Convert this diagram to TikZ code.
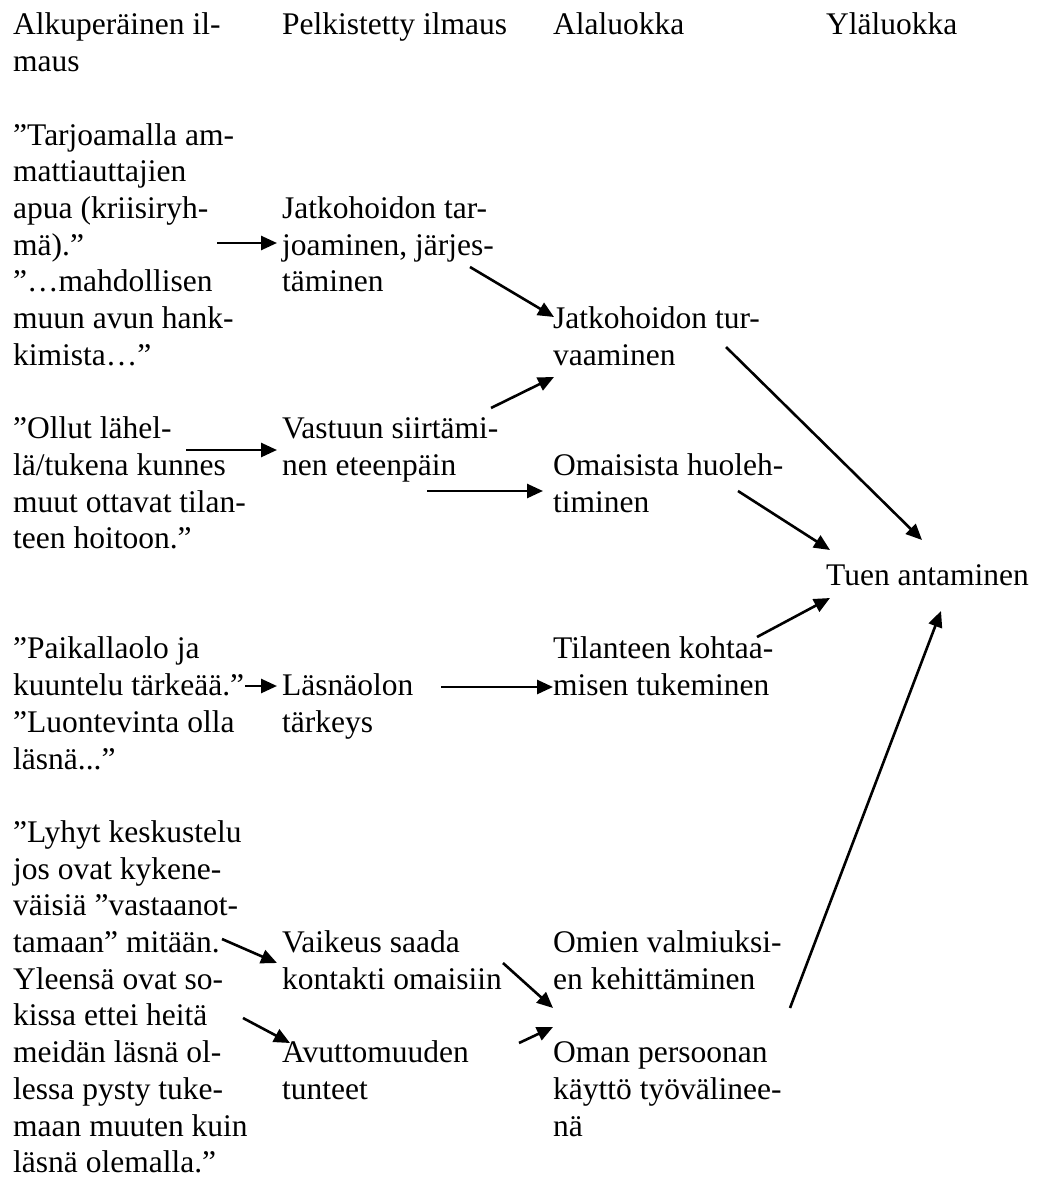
\documentclass[tikz,border=0pt]{standalone}
\usepackage{fontspec}
\setmainfont{Liberation Serif}
\usetikzlibrary{arrows.meta}
\newcommand\blk[1]{\vtop{\lineskiplimit=-100pt\halign{##\hfil\cr#1\crcr}}}
\begin{document}
\begin{tikzpicture}[x=1pt,y=-1pt,
  txt/.style={anchor=base west,inner sep=0pt,font=\fontsize{31.5}{36.7}\selectfont},
  arr/.style={line width=2.6pt,-{Triangle[length=16pt,width=14pt]}}]
\useasboundingbox (0,0) rectangle (1042,1180);
% headers
\node[txt] (h1) at (13,{35}) {\blk{Alkuperäinen il-\cr maus}};
\node[txt] (h2) at (282,{35}) {\blk{Pelkistetty ilmaus}};
\node[txt] (h3) at (553,{35}) {\blk{Alaluokka}};
\node[txt] (h4) at (826,{35}) {\blk{Yläluokka}};
% original expressions
\node[txt] (o1) at (13,{35+36.7*3}) {\blk{”Tarjoamalla am-\cr mattiauttajien\cr apua (kriisiryh-\cr mä).”\cr ”…mahdollisen\cr muun avun hank-\cr kimista…”}};
\node[txt] (o2) at (13,{35+36.7*11}) {\blk{”Ollut lähel-\cr lä/tukena kunnes\cr muut ottavat tilan-\cr teen hoitoon.”}};
\node[txt] (o3) at (13,{35+36.7*17}) {\blk{”Paikallaolo ja\cr kuuntelu tärkeää.”\cr ”Luontevinta olla\cr läsnä...”}};
\node[txt] (o4) at (13,{35+36.7*22}) {\blk{”Lyhyt keskustelu\cr jos ovat kykene-\cr väisiä ”vastaanot-\cr tamaan” mitään.\cr Yleensä ovat so-\cr kissa ettei heitä\cr meidän läsnä ol-\cr lessa pysty tuke-\cr maan muuten kuin\cr läsnä olemalla.”}};
% simplified
\node[txt] (p1) at (282,{35+36.7*5}) {\blk{Jatkohoidon tar-\cr joaminen, järjes-\cr täminen}};
\node[txt] (p2) at (282,{35+36.7*11}) {\blk{Vastuun siirtämi-\cr nen eteenpäin}};
\node[txt] (p3) at (282,{35+36.7*18}) {\blk{Läsnäolon\cr tärkeys}};
\node[txt] (p4) at (282,{35+36.7*25}) {\blk{Vaikeus saada\cr kontakti omaisiin}};
\node[txt] (p5) at (282,{35+36.7*28}) {\blk{Avuttomuuden\cr tunteet}};
% subclasses
\node[txt] (a1) at (553,{35+36.7*8}) {\blk{Jatkohoidon tur-\cr vaaminen}};
\node[txt] (a2) at (553,{35+36.7*12}) {\blk{Omaisista huoleh-\cr timinen}};
\node[txt] (a3) at (553,{35+36.7*17}) {\blk{Tilanteen kohtaa-\cr misen tukeminen}};
\node[txt] (a4) at (553,{35+36.7*25}) {\blk{Omien valmiuksi-\cr en kehittäminen}};
\node[txt] (a5) at (553,{35+36.7*28}) {\blk{Oman persoonan\cr käyttö työvälinee-\cr nä}};
% main class
\node[txt] (y1) at (826,{35+36.7*15}) {\blk{Tuen antaminen}};
% connector end points
\coordinate (s1) at (217,243);  \coordinate (e1) at (277,243);
\coordinate (s2) at (470,267);  \coordinate (e2) at (554,317);
\coordinate (s3) at (491,408);  \coordinate (e3) at (554,377);
\coordinate (s4) at (186,450);  \coordinate (e4) at (277,450);
\coordinate (s5) at (427,491);  \coordinate (e5) at (543,491);
\coordinate (s6) at (726,347);  \coordinate (e6) at (922,540);
\coordinate (s7) at (738,491);  \coordinate (e7) at (830,550);
\coordinate (s8) at (757,637);  \coordinate (e8) at (830,598);
\coordinate (s9) at (441,687);  \coordinate (e9) at (553,687);
\coordinate (s10) at (245,686); \coordinate (e10) at (277,686);
\coordinate (s11) at (790,1008);\coordinate (e11) at (941,611);
\coordinate (s12) at (222,939); \coordinate (e12) at (277,963);
\coordinate (s13) at (243,1018);\coordinate (e13) at (290,1043);
\coordinate (s14) at (503,963); \coordinate (e14) at (553,1008);
\coordinate (s15) at (519,1043);\coordinate (e15) at (553,1027);
\foreach \i in {1,...,15} {\draw[arr] (s\i) -- (e\i);}
\end{tikzpicture}
\end{document}
